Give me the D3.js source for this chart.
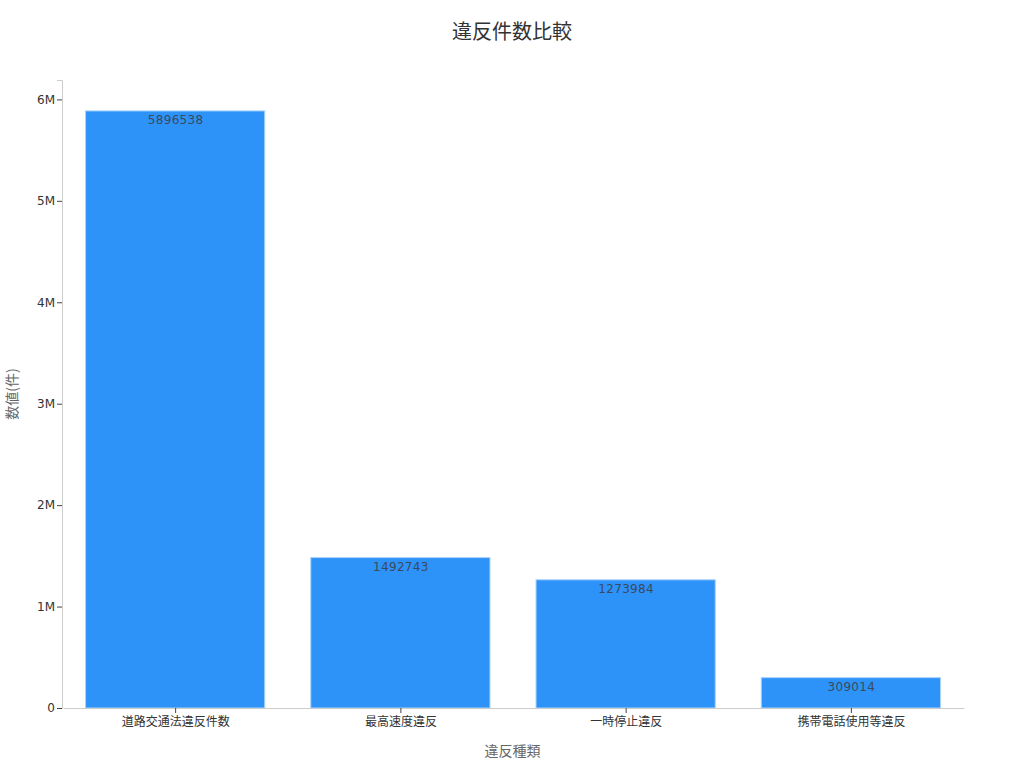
<!DOCTYPE html>
<html>
<head>
<meta charset="utf-8">
<script src="https://d3js.org/d3.v7.min.js"></script>
<style>
  body { margin: 0; background: #fff; }
  text { font-family: "DejaVu Sans", "Noto Sans CJK JP", sans-serif; }
</style>
</head>
<body>
<script>
// chart data
const categories = ["道路交通法違反件数", "最高速度違反", "一時停止違反", "携帯電話使用等違反"];
const counts = [5896538, 1492743, 1273984, 309014];
const yTicks = [0, 1000000, 2000000, 3000000, 4000000, 5000000, 6000000];
const yTickLabels = ["0", "1M", "2M", "3M", "4M", "5M", "6M"];

const width = 1024, height = 768;
const margin = {top: 80, right: 61, bottom: 60, left: 62};

const svg = d3.select("body").append("svg")
    .attr("width", width)
    .attr("height", height);

const x = d3.scaleBand()
    .domain(categories)
    .range([margin.left + 1, width - margin.right + 1])
    .paddingInner(0.2)
    .paddingOuter(0.1);

const y = d3.scaleLinear()
    .domain([0, d3.max(counts) * 1.05])
    .range([height - margin.bottom, margin.top]);

// title
svg.append("text")
    .attr("x", width / 2)
    .attr("y", 39)
    .attr("text-anchor", "middle")
    .attr("font-size", 20)
    .attr("fill", "#333")
    .text("違反件数比較");

// bars
svg.selectAll(".bar")
    .data(counts)
    .enter()
    .append("rect")
    .attr("class", "bar")
    .attr("x", (d, i) => x(categories[i]))
    .attr("y", d => y(d) + 1)
    .attr("width", x.bandwidth() - 1)
    .attr("height", d => y(0) - y(d) - 1)
    .attr("fill", "#2e93f9")
    .attr("stroke", "#a9d2fb")
    .attr("stroke-width", 1);

// value labels
svg.selectAll(".value")
    .data(counts)
    .enter()
    .append("text")
    .attr("class", "value")
    .attr("x", (d, i) => x(categories[i]) + x.bandwidth() / 2)
    .attr("y", d => y(d) + 14)
    .attr("text-anchor", "middle")
    .attr("font-size", 12)
    .attr("letter-spacing", 0.3)
    .attr("fill", "#3a4a5e")
    .text(d => d);

// y axis
const yAxis = svg.append("g")
    .attr("transform", `translate(${margin.left},0)`)
    .call(d3.axisLeft(y)
        .tickValues(yTicks)
        .tickFormat((d, i) => yTickLabels[i])
        .tickSize(5)
        .tickPadding(2));
yAxis.select(".domain").attr("stroke", "#ccc");
yAxis.selectAll(".tick line").attr("stroke", "#444");
yAxis.selectAll(".tick text").attr("font-size", 12).attr("fill", "#333")
    .style("font-family", '"DejaVu Sans", "Noto Sans CJK JP", sans-serif');

// x axis
const xAxis = svg.append("g")
    .attr("transform", `translate(0,${height - margin.bottom})`)
    .call(d3.axisBottom(x).tickSize(5).tickPadding(4).tickSizeOuter(0));
xAxis.select(".domain").attr("stroke", "#ccc");
xAxis.selectAll(".tick line").attr("stroke", "#444");
xAxis.selectAll(".tick text").attr("font-size", 12).attr("fill", "#333")
    .style("font-family", '"Noto Sans CJK JP", sans-serif');

// axis titles
svg.append("text")
    .attr("x", (margin.left + width - margin.right) / 2)
    .attr("y", 756)
    .attr("text-anchor", "middle")
    .attr("font-size", 14)
    .attr("fill", "#666")
    .style("font-family", '"Noto Sans CJK JP", sans-serif')
    .text("違反種類");

svg.append("text")
    .attr("transform", `translate(17,${(margin.top + height - margin.bottom) / 2}) rotate(-90)`)
    .attr("text-anchor", "middle")
    .attr("font-size", 14)
    .attr("fill", "#666")
    .style("font-family", '"Noto Sans CJK JP", sans-serif')
    .text("数値(件)");
</script>
</body>
</html>
